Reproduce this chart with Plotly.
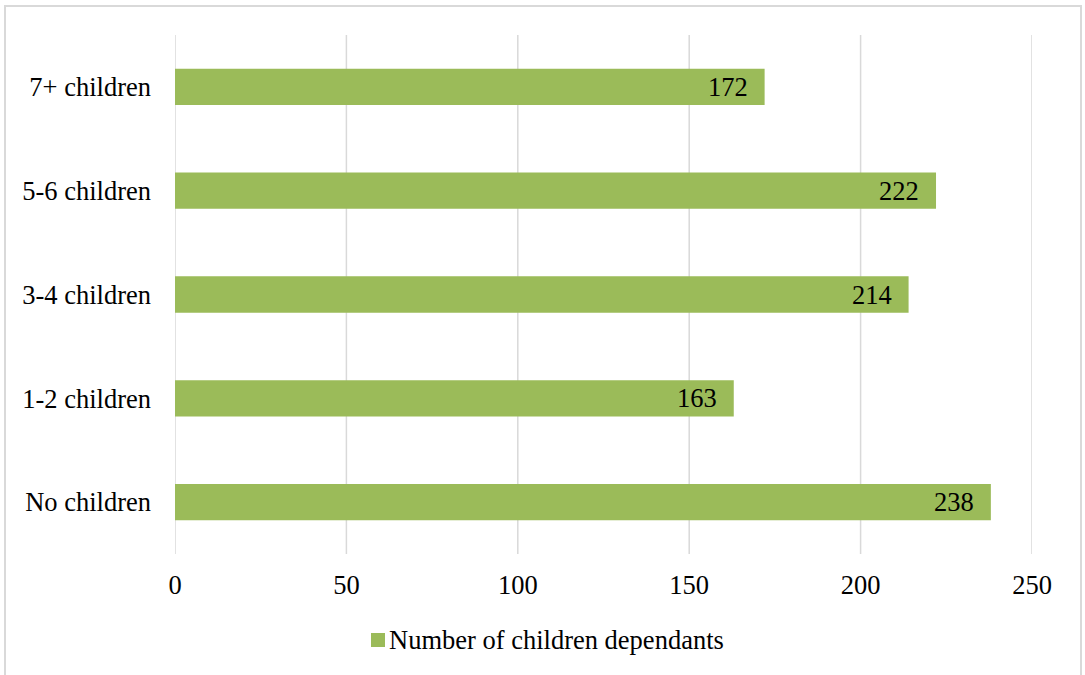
import plotly.graph_objects as go

categories = ["No children", "1-2 children", "3-4 children", "5-6 children", "7+ children"]
values = [238, 163, 214, 222, 172]
series_name = "Number of children dependants"
x_ticks = [0, 50, 100, 150, 200, 250]

FONT = "Liberation Serif, Times New Roman, serif"
GREEN = "#9BBB59"
GRID = "#D9D9D9"
FS = 26.5

W, H = 1085, 675
L, R, T, B = 175, 53, 35, 121
pw, ph = W - L - R, H - T - B

def px_x(p):
    return (p - L) / pw

def px_y(p):
    return (H - B - p) / ph

fig = go.Figure()

# vertical gridlines (including the ones at both range ends)
for t in x_ticks:
    fig.add_shape(type="line", xref="x", yref="paper", x0=t, x1=t, y0=0, y1=1,
                  line=dict(color=GRID, width=1.5), layer="below")

fig.add_trace(go.Bar(
    y=categories, x=values, orientation="h", name=series_name,
    marker=dict(color=GREEN, line=dict(width=0)), width=0.35,
    showlegend=False,
))

for c, v in zip(categories, values):
    fig.add_annotation(x=v, y=c, text=str(v), showarrow=False, xanchor="right",
                       xshift=-15, font=dict(family=FONT, size=FS, color="#000000"))

# chart border
fig.add_shape(type="rect", xref="paper", yref="paper",
              x0=px_x(5), x1=px_x(1081), y0=px_y(680), y1=px_y(6),
              line=dict(color=GRID, width=2), fillcolor="rgba(0,0,0,0)", layer="below")

# legend (manual, to match the tight symbol/text spacing)
fig.add_shape(type="rect", xref="paper", yref="paper",
              x0=px_x(371), x1=px_x(385), y0=px_y(647), y1=px_y(633),
              line=dict(width=0), fillcolor=GREEN)
fig.add_annotation(xref="paper", yref="paper", x=px_x(387), y=px_y(640),
                   xanchor="left", yanchor="middle", text=series_name, showarrow=False,
                   font=dict(family=FONT, size=FS, color="#000000"))

fig.update_layout(
    width=W, height=H,
    margin=dict(l=L, r=R, t=T, b=B),
    paper_bgcolor="white", plot_bgcolor="white",
    font=dict(family=FONT, size=FS, color="#000000"),
    showlegend=False,
    xaxis=dict(range=[0, 250], tickvals=x_ticks, showgrid=False,
               zeroline=False, showline=False, ticks="", ticklabelstandoff=12,
               tickfont=dict(family=FONT, size=FS)),
    yaxis=dict(categoryorder="array", categoryarray=categories, showgrid=False, zeroline=False,
               showline=False, ticks="", ticklabelstandoff=23,
               tickfont=dict(family=FONT, size=FS)),
)

fig.write_html("out.html")
